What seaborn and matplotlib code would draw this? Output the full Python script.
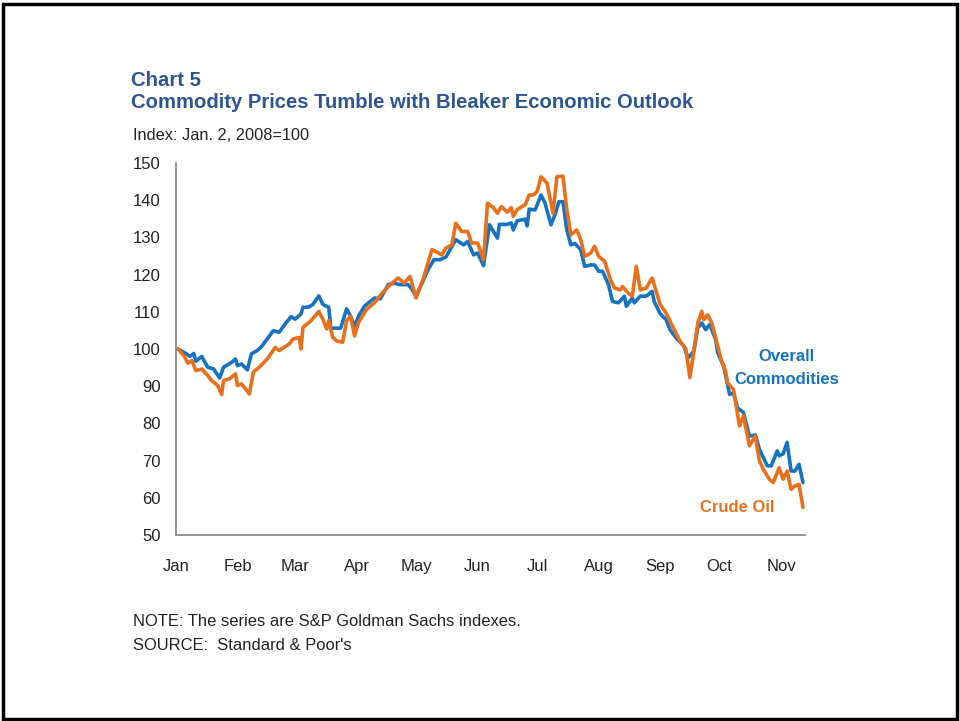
import pandas as pd
import matplotlib.pyplot as plt
from matplotlib.patches import Rectangle
import seaborn as sns

# S&P GSCI indexes, Jan. 2, 2008 = 100
overall_dates = [
    "01-02", "01-06", "01-08", "01-10", "01-11", "01-14", "01-17", "01-20", "01-23", "01-25",
    "01-29", "01-31", "02-01", "02-03", "02-06", "02-08", "02-11", "02-13", "02-16", "02-19",
    "02-22", "02-25", "02-28", "03-01", "03-04", "03-05", "03-08", "03-10", "03-13", "03-15",
    "03-18", "03-19", "03-21", "03-24", "03-27", "03-29", "03-31", "04-02", "04-05", "04-10",
    "04-13", "04-17", "04-20", "04-23", "04-27", "04-29", "05-01", "05-04", "05-07", "05-10",
    "05-13", "05-16", "05-21", "05-25", "05-27", "05-30", "06-01", "06-04", "06-07", "06-11",
    "06-12", "06-16", "06-18", "06-19", "06-21", "06-25", "06-26", "06-27", "06-30", "07-03",
    "07-05", "07-08", "07-10", "07-12", "07-14", "07-16", "07-18", "07-20", "07-23", "07-25",
    "07-28", "07-30", "08-01", "08-03", "08-06", "08-08", "08-11", "08-14", "08-15", "08-18",
    "08-19", "08-22", "08-25", "08-28", "08-29", "09-01", "09-04", "09-06", "09-09", "09-13",
    "09-15", "09-18", "09-20", "09-22", "09-24", "09-26", "09-29", "09-30", "10-03", "10-06",
    "10-08", "10-10", "10-13", "10-16", "10-19", "10-21", "10-25", "10-27", "10-30", "10-31",
    "11-02", "11-04", "11-06", "11-08", "11-10", "11-12",
]
overall_values = [
    100.0, 98.8, 98.0, 98.8, 96.7, 98.0, 95.1, 94.6, 92.2, 95.1,
    96.4, 97.3, 95.5, 96.0, 94.4, 98.7, 99.6, 100.6, 102.7, 104.9,
    104.5, 106.7, 108.7, 108.0, 109.4, 111.2, 111.3, 112.0, 114.3, 112.0,
    111.2, 105.6, 105.6, 105.6, 110.8, 108.8, 106.1, 108.8, 111.5, 113.7,
    113.5, 117.3, 117.7, 117.3, 117.3, 116.0, 114.2, 117.7, 121.3, 124.0,
    124.0, 124.7, 129.4, 128.0, 128.9, 125.3, 125.8, 122.4, 133.4, 129.8,
    133.5, 133.5, 133.9, 132.0, 134.5, 134.9, 133.1, 137.6, 137.4, 141.4,
    139.2, 133.4, 136.1, 139.6, 139.6, 132.0, 128.0, 128.4, 126.7, 122.2,
    122.6, 122.6, 120.9, 120.9, 117.3, 112.8, 112.4, 114.2, 111.5, 113.7,
    112.4, 114.2, 114.2, 115.5, 112.8, 109.5, 107.9, 105.2, 103.0, 100.8,
    97.6, 99.4, 105.7, 107.0, 105.2, 106.6, 102.5, 99.0, 95.4, 87.8,
    88.2, 84.2, 82.9, 76.6, 76.9, 73.1, 68.6, 68.6, 72.6, 71.3,
    71.8, 74.9, 67.2, 67.2, 69.0, 64.1,
]

crude_dates = [
    "01-02", "01-05", "01-07", "01-09", "01-11", "01-14", "01-17", "01-19", "01-22", "01-24",
    "01-25", "01-28", "01-31", "02-01", "02-03", "02-05", "02-07", "02-09", "02-12", "02-16",
    "02-20", "02-22", "02-27", "02-29", "03-03", "03-04", "03-05", "03-09", "03-13", "03-15",
    "03-17", "03-18", "03-20", "03-22", "03-25", "03-27", "03-29", "03-31", "04-02", "04-06",
    "04-10", "04-14", "04-18", "04-22", "04-25", "04-28", "05-01", "05-05", "05-09", "05-11",
    "05-14", "05-16", "05-19", "05-21", "05-24", "05-27", "05-29", "06-01", "06-04", "06-06",
    "06-09", "06-11", "06-13", "06-16", "06-18", "06-19", "06-21", "06-25", "06-27", "06-29",
    "07-01", "07-03", "07-06", "07-07", "07-09", "07-11", "07-14", "07-16", "07-18", "07-21",
    "07-23", "07-25", "07-28", "07-30", "08-01", "08-04", "08-07", "08-09", "08-12", "08-13",
    "08-16", "08-18", "08-20", "08-22", "08-25", "08-28", "08-30", "09-01", "09-04", "09-06",
    "09-09", "09-11", "09-14", "09-16", "09-18", "09-20", "09-22", "09-23", "09-25", "09-27",
    "09-29", "09-30", "10-02", "10-04", "10-05", "10-08", "10-11", "10-13", "10-16", "10-19",
    "10-21", "10-23", "10-26", "10-28", "10-31", "11-02", "11-04", "11-06", "11-08", "11-10",
    "11-12",
]
crude_values = [
    100.0, 98.2, 96.2, 96.9, 94.2, 94.6, 92.9, 91.5, 90.2, 87.8,
    91.5, 92.0, 93.3, 90.2, 90.6, 89.3, 87.9, 93.8, 95.1, 97.3,
    100.4, 99.6, 101.3, 102.7, 103.1, 100.0, 105.8, 107.6, 110.1, 108.0,
    105.4, 107.6, 103.1, 102.2, 101.8, 107.6, 108.8, 103.5, 107.1, 110.6,
    112.4, 115.1, 117.3, 119.1, 117.7, 119.5, 113.7, 119.5, 126.7, 126.2,
    125.3, 127.1, 128.0, 133.8, 131.6, 131.6, 128.5, 128.5, 124.0, 139.2,
    138.0, 136.5, 138.3, 136.8, 138.0, 135.7, 137.5, 138.8, 141.4, 141.4,
    142.3, 146.3, 144.6, 141.9, 136.5, 146.3, 146.5, 137.4, 130.7, 132.0,
    129.4, 124.9, 125.8, 127.6, 124.9, 123.6, 118.6, 116.4, 115.9, 116.8,
    115.0, 114.2, 122.2, 115.9, 116.4, 119.1, 115.5, 112.0, 109.7, 107.5,
    104.3, 102.1, 99.9, 92.3, 99.4, 107.0, 110.1, 107.9, 109.2, 107.0,
    103.0, 100.8, 96.7, 94.0, 90.9, 89.1, 79.3, 82.0, 74.0, 76.6,
    70.0, 67.7, 65.0, 64.1, 68.1, 65.0, 67.2, 62.3, 63.2, 63.6,
    57.4,
]

month_labels = ["Jan", "Feb", "Mar", "Apr", "May", "Jun", "Jul", "Aug", "Sep", "Oct", "Nov"]

df = pd.concat([
    pd.DataFrame({"date": pd.to_datetime(["2008-" + d for d in overall_dates]),
                  "value": overall_values, "series": "Overall Commodities"}),
    pd.DataFrame({"date": pd.to_datetime(["2008-" + d for d in crude_dates]),
                  "value": crude_values, "series": "Crude Oil"}),
])

blue = "#1673c1"
orange = "#e8701a"
title_blue = "#2d5593"
grey = "#8a8a8a"

sns.set_style("white")
plt.rcParams["font.family"] = ["Liberation Sans", "DejaVu Sans"]

fig = plt.figure(figsize=(9.6, 7.21), dpi=100)
ax = fig.add_axes([0.1833, 0.258, 0.6552, 0.5159])

sns.lineplot(data=df, x="date", y="value", hue="series",
             palette={"Overall Commodities": blue, "Crude Oil": orange},
             linewidth=2.6, legend=False, ax=ax)

ax.set_ylim(50, 150)
ax.set_yticks(range(50, 151, 10))
ax.set_xlim(pd.Timestamp("2008-01-01"), pd.Timestamp("2008-11-13"))
ax.set_xticks(pd.date_range("2008-01-01", periods=len(month_labels), freq="MS"))
ax.set_xticklabels(month_labels)
ax.set_xlabel("")
ax.set_ylabel("")

for side in ["top", "right"]:
    ax.spines[side].set_visible(False)
for side in ["left", "bottom"]:
    ax.spines[side].set_color(grey)
    ax.spines[side].set_linewidth(1.3)
ax.tick_params(axis="both", direction="out", length=5, width=1.2, color=grey,
               labelsize=12, labelcolor="#222222")
ax.tick_params(axis="x", pad=12)
ax.tick_params(axis="y", pad=6)

ax.text(0.971, 0.449, "Overall\nCommodities", transform=ax.transAxes, ha="center",
        va="center", color=blue, fontsize=12, fontweight="bold", linespacing=1.6)
ax.text(0.892, 0.075, "Crude Oil", transform=ax.transAxes, ha="center", va="center",
        color=orange, fontsize=12, fontweight="bold")

fig.text(131 / 960, 1 - 80 / 721, "Chart 5", color=title_blue, fontsize=14.6,
         fontweight="bold", va="center")
fig.text(131 / 960, 1 - 103 / 721, "Commodity Prices Tumble with Bleaker Economic Outlook",
         color=title_blue, fontsize=14.6, fontweight="bold", va="center")
fig.text(133 / 960, 1 - 135 / 721, "Index: Jan. 2, 2008=100", color="#222222",
         fontsize=11.8, va="center")
fig.text(133 / 960, 1 - 622 / 721, "NOTE: The series are S&P Goldman Sachs indexes.",
         color="#222222", fontsize=11.9, va="center")
fig.text(133 / 960, 1 - 646 / 721, "SOURCE:  Standard & Poor's", color="#222222",
         fontsize=11.9, va="center")

fig.patches.append(Rectangle((0.003, 0.003), 0.994, 0.991, transform=fig.transFigure,
                             fill=False, edgecolor="black", linewidth=2.5))

fig.savefig("out.png", dpi=100)
